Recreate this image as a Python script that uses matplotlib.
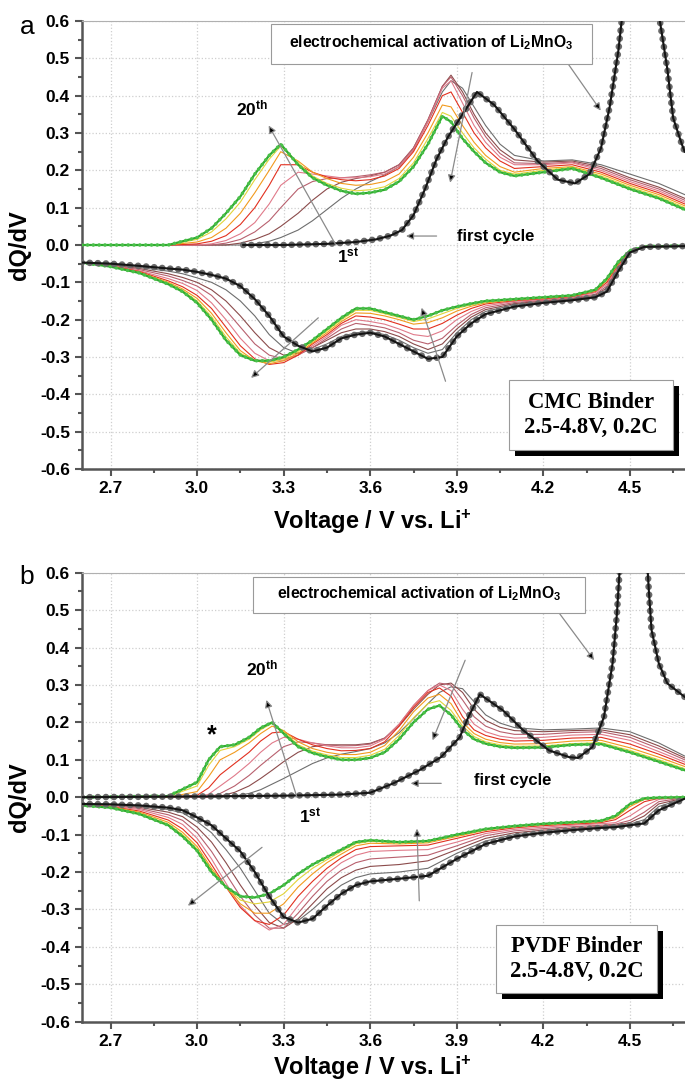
import matplotlib
matplotlib.use('Agg')
import matplotlib.pyplot as plt
from matplotlib.patches import Rectangle
from matplotlib.ticker import MultipleLocator, FormatStrFormatter

plt.rcParams['font.family'] = ['Liberation Sans', 'DejaVu Sans']
plt.rcParams['font.weight'] = 'bold'
plt.rcParams['mathtext.fontset'] = 'custom'
plt.rcParams['mathtext.rm'] = 'Liberation Sans:bold'
plt.rcParams['mathtext.default'] = 'rm'

# ---------------- panel a (CMC binder) ----------------
# charge branch, cycles 2..20
va_ch = [2.60, 2.90, 3.00, 3.05, 3.10, 3.15, 3.20, 3.25, 3.29, 3.35, 3.40, 3.45, 3.50, 3.55, 3.60, 3.65,
         3.70, 3.75, 3.80, 3.85, 3.88, 3.92, 3.96, 4.00, 4.05, 4.10, 4.20, 4.30, 4.40, 4.50, 4.60, 4.69]
a_ch = {
    2: [0, 0, 0, 0, 0, 0, 0.003, 0.01, 0.02, 0.04, 0.065, 0.095, 0.125, 0.15, 0.17, 0.188, 0.21, 0.255, 0.33,
        0.41, 0.44, 0.42, 0.37, 0.32, 0.27, 0.24, 0.225, 0.228, 0.215, 0.19, 0.165, 0.135],
    4: [0, 0, 0, 0, 0, 0.005, 0.015, 0.03, 0.05, 0.085, 0.12, 0.15, 0.168, 0.178, 0.185, 0.195, 0.215, 0.26,
        0.335, 0.425, 0.455, 0.41, 0.35, 0.30, 0.255, 0.228, 0.222, 0.225, 0.21, 0.18, 0.155, 0.125],
    6: [0, 0, 0, 0, 0.005, 0.015, 0.035, 0.065, 0.1, 0.15, 0.17, 0.178, 0.18, 0.183, 0.188, 0.195, 0.215, 0.26,
        0.335, 0.425, 0.45, 0.40, 0.34, 0.29, 0.245, 0.22, 0.218, 0.222, 0.205, 0.175, 0.15, 0.12],
    9: [0, 0, 0, 0.003, 0.012, 0.03, 0.06, 0.11, 0.16, 0.195, 0.19, 0.185, 0.18, 0.18, 0.183, 0.19, 0.21, 0.255,
        0.33, 0.42, 0.44, 0.38, 0.32, 0.275, 0.235, 0.215, 0.215, 0.22, 0.2, 0.17, 0.145, 0.115],
    12: [0, 0, 0.003, 0.01, 0.025, 0.055, 0.1, 0.16, 0.215, 0.215, 0.195, 0.182, 0.175, 0.172, 0.175, 0.185,
         0.205, 0.25, 0.32, 0.40, 0.41, 0.355, 0.30, 0.26, 0.225, 0.205, 0.21, 0.215, 0.195, 0.165, 0.14, 0.11],
    15: [0, 0, 0.008, 0.02, 0.045, 0.085, 0.14, 0.2, 0.25, 0.225, 0.195, 0.178, 0.165, 0.16, 0.162, 0.17, 0.19,
         0.235, 0.3, 0.375, 0.37, 0.32, 0.275, 0.24, 0.21, 0.195, 0.205, 0.21, 0.19, 0.16, 0.135, 0.105],
    18: [0, 0, 0.015, 0.035, 0.07, 0.115, 0.175, 0.23, 0.265, 0.22, 0.185, 0.165, 0.152, 0.145, 0.148, 0.156,
         0.178, 0.22, 0.285, 0.355, 0.345, 0.30, 0.26, 0.23, 0.2, 0.19, 0.2, 0.208, 0.185, 0.155, 0.13, 0.1],
    20: [0, 0, 0.02, 0.045, 0.085, 0.13, 0.19, 0.24, 0.27, 0.215, 0.18, 0.16, 0.145, 0.137, 0.14, 0.148, 0.17,
         0.21, 0.27, 0.345, 0.33, 0.285, 0.25, 0.22, 0.195, 0.185, 0.195, 0.205, 0.18, 0.15, 0.125, 0.095],
}
# first charge (activation of Li2MnO3 above 4.4 V)
va1_ch = [3.16, 3.30, 3.45, 3.55, 3.62, 3.67, 3.71, 3.75, 3.79, 3.83, 3.87, 3.92, 3.97, 4.03, 4.10, 4.18,
          4.25, 4.31, 4.36, 4.40, 4.43, 4.46, 4.50, 4.55, 4.60, 4.63, 4.65, 4.68, 4.69]
a1_ch = [0.0, 0.0, 0.003, 0.008, 0.015, 0.025, 0.04, 0.08, 0.15, 0.23, 0.29, 0.35, 0.41, 0.375, 0.31, 0.225,
         0.175, 0.165, 0.19, 0.26, 0.37, 0.52, 0.8, 0.9, 0.62, 0.47, 0.34, 0.27, 0.25]

# discharge branch, cycles 1..20
va_dc = [2.60, 2.70, 2.80, 2.90, 2.95, 3.00, 3.05, 3.10, 3.15, 3.20, 3.25, 3.30, 3.35, 3.40, 3.45, 3.50, 3.55,
         3.60, 3.65, 3.70, 3.75, 3.80, 3.85, 3.90, 3.95, 4.00, 4.10, 4.20, 4.30, 4.38, 4.42, 4.46, 4.50, 4.55, 4.69]
a_dc = {
    1: [-0.047, -0.05, -0.056, -0.063, -0.066, -0.072, -0.08, -0.09, -0.11, -0.145, -0.19, -0.245, -0.27, -0.285,
        -0.275, -0.25, -0.24, -0.235, -0.245, -0.265, -0.285, -0.305, -0.3, -0.245, -0.21, -0.185, -0.165,
        -0.155, -0.148, -0.14, -0.125, -0.07, -0.02, -0.005, -0.003],
    2: [-0.047, -0.052, -0.06, -0.07, -0.077, -0.088, -0.1, -0.12, -0.15, -0.19, -0.24, -0.275, -0.29, -0.28,
        -0.265, -0.245, -0.235, -0.232, -0.24, -0.255, -0.275, -0.29, -0.28, -0.235, -0.2, -0.178, -0.16,
        -0.152, -0.146, -0.138, -0.12, -0.065, -0.02, -0.005, -0.003],
    4: [-0.047, -0.053, -0.063, -0.077, -0.087, -0.1, -0.12, -0.15, -0.19, -0.235, -0.275, -0.295, -0.29,
        -0.275, -0.255, -0.235, -0.225, -0.225, -0.232, -0.245, -0.265, -0.28, -0.265, -0.225, -0.193, -0.173,
        -0.157, -0.15, -0.144, -0.135, -0.115, -0.06, -0.018, -0.005, -0.003],
    6: [-0.047, -0.054, -0.066, -0.083, -0.095, -0.11, -0.135, -0.175, -0.22, -0.265, -0.295, -0.305, -0.295,
        -0.275, -0.25, -0.225, -0.21, -0.215, -0.222, -0.235, -0.255, -0.265, -0.25, -0.215, -0.186, -0.168,
        -0.154, -0.148, -0.142, -0.132, -0.11, -0.058, -0.017, -0.005, -0.003],
    9: [-0.047, -0.055, -0.069, -0.09, -0.103, -0.122, -0.155, -0.2, -0.25, -0.29, -0.31, -0.31, -0.295, -0.27,
        -0.245, -0.215, -0.2, -0.205, -0.212, -0.225, -0.24, -0.245, -0.23, -0.2, -0.178, -0.163, -0.151,
        -0.146, -0.14, -0.128, -0.105, -0.055, -0.016, -0.005, -0.003],
    12: [-0.047, -0.056, -0.071, -0.096, -0.112, -0.135, -0.17, -0.22, -0.27, -0.305, -0.32, -0.315, -0.295,
         -0.265, -0.24, -0.21, -0.19, -0.193, -0.2, -0.212, -0.225, -0.225, -0.21, -0.188, -0.17, -0.158,
         -0.149, -0.144, -0.138, -0.125, -0.1, -0.052, -0.016, -0.005, -0.003],
    15: [-0.047, -0.057, -0.073, -0.1, -0.118, -0.143, -0.183, -0.235, -0.283, -0.31, -0.318, -0.31, -0.29,
         -0.262, -0.235, -0.205, -0.182, -0.183, -0.19, -0.2, -0.212, -0.208, -0.195, -0.177, -0.164, -0.155,
         -0.147, -0.142, -0.136, -0.123, -0.095, -0.05, -0.015, -0.004, -0.002],
    18: [-0.047, -0.058, -0.074, -0.103, -0.122, -0.15, -0.192, -0.246, -0.29, -0.31, -0.314, -0.305, -0.285,
         -0.258, -0.23, -0.2, -0.175, -0.175, -0.184, -0.194, -0.205, -0.198, -0.184, -0.17, -0.16, -0.152,
         -0.146, -0.141, -0.135, -0.121, -0.092, -0.047, -0.015, -0.004, -0.002],
    20: [-0.047, -0.058, -0.075, -0.105, -0.125, -0.155, -0.2, -0.255, -0.295, -0.31, -0.31, -0.3, -0.28,
         -0.255, -0.225, -0.195, -0.17, -0.17, -0.18, -0.19, -0.2, -0.19, -0.175, -0.165, -0.157, -0.15,
         -0.145, -0.14, -0.135, -0.12, -0.09, -0.045, -0.015, -0.004, -0.002],
}

# ---------------- panel b (PVDF binder) ----------------
vb_ch = [2.60, 2.90, 3.00, 3.04, 3.08, 3.13, 3.18, 3.22, 3.26, 3.30, 3.35, 3.40, 3.45, 3.50, 3.55, 3.60, 3.65,
         3.70, 3.75, 3.80, 3.84, 3.88, 3.92, 3.96, 4.00, 4.05, 4.10, 4.20, 4.30, 4.40, 4.50, 4.60, 4.69]
b_ch = {
    2: [0, 0, 0, 0, 0, 0.003, 0.01, 0.02, 0.035, 0.05, 0.07, 0.09, 0.105, 0.115, 0.122, 0.13, 0.145, 0.172, 0.21,
        0.25, 0.28, 0.295, 0.29, 0.255, 0.22, 0.198, 0.186, 0.18, 0.182, 0.185, 0.175, 0.145, 0.11],
    4: [0, 0, 0, 0, 0.003, 0.013, 0.03, 0.05, 0.072, 0.095, 0.12, 0.135, 0.14, 0.14, 0.14, 0.144, 0.158, 0.19,
        0.235, 0.275, 0.3, 0.305, 0.28, 0.235, 0.205, 0.187, 0.178, 0.175, 0.178, 0.18, 0.167, 0.137, 0.105],
    6: [0, 0, 0, 0, 0.01, 0.03, 0.058, 0.085, 0.11, 0.135, 0.148, 0.145, 0.14, 0.137, 0.138, 0.142, 0.158, 0.195,
        0.245, 0.285, 0.305, 0.3, 0.26, 0.215, 0.19, 0.175, 0.168, 0.168, 0.173, 0.175, 0.16, 0.13, 0.1],
    9: [0, 0, 0, 0.008, 0.03, 0.058, 0.09, 0.12, 0.145, 0.16, 0.155, 0.145, 0.137, 0.132, 0.132, 0.137, 0.155,
        0.195, 0.245, 0.285, 0.3, 0.285, 0.235, 0.195, 0.175, 0.163, 0.158, 0.16, 0.166, 0.168, 0.152, 0.122, 0.094],
    12: [0, 0, 0.005, 0.025, 0.06, 0.09, 0.12, 0.15, 0.172, 0.175, 0.155, 0.14, 0.13, 0.124, 0.125, 0.13, 0.148,
         0.19, 0.24, 0.28, 0.292, 0.27, 0.215, 0.18, 0.165, 0.155, 0.15, 0.152, 0.158, 0.16, 0.142, 0.115, 0.088],
    15: [0, 0, 0.015, 0.055, 0.1, 0.12, 0.145, 0.17, 0.19, 0.178, 0.148, 0.13, 0.12, 0.114, 0.114, 0.12, 0.138,
         0.178, 0.228, 0.265, 0.275, 0.25, 0.2, 0.17, 0.155, 0.146, 0.142, 0.143, 0.15, 0.152, 0.132, 0.107, 0.082],
    18: [0, 0.002, 0.03, 0.085, 0.125, 0.135, 0.155, 0.18, 0.198, 0.175, 0.14, 0.123, 0.113, 0.106, 0.106, 0.112,
         0.128, 0.165, 0.212, 0.25, 0.258, 0.232, 0.19, 0.162, 0.148, 0.14, 0.136, 0.137, 0.143, 0.146, 0.125,
         0.1, 0.076],
    20: [0.0, 0.003, 0.04, 0.1, 0.135, 0.14, 0.16, 0.185, 0.2, 0.17, 0.135, 0.118, 0.108, 0.1, 0.1, 0.105, 0.12,
         0.155, 0.2, 0.235, 0.245, 0.22, 0.18, 0.155, 0.143, 0.135, 0.132, 0.133, 0.14, 0.142, 0.12, 0.095, 0.072],
}
vb1_ch = [2.60, 3.00, 3.30, 3.50, 3.60, 3.68, 3.77, 3.845, 3.91, 3.94, 3.98, 4.06, 4.13, 4.22, 4.29, 4.32, 4.37,
          4.41, 4.44, 4.455, 4.48, 4.54, 4.565, 4.575, 4.60, 4.63, 4.69]
b1_ch = [0.0, 0.002, 0.004, 0.007, 0.012, 0.037, 0.072, 0.107, 0.16, 0.214, 0.275, 0.232, 0.179, 0.125, 0.107,
         0.105, 0.134, 0.214, 0.358, 0.49, 0.8, 0.9, 0.56, 0.447, 0.358, 0.304, 0.268]

vb_dc = [2.60, 2.70, 2.80, 2.90, 2.95, 3.00, 3.05, 3.10, 3.15, 3.20, 3.25, 3.30, 3.35, 3.40, 3.45, 3.50, 3.55,
         3.60, 3.70, 3.80, 3.90, 4.00, 4.10, 4.20, 4.30, 4.40, 4.45, 4.50, 4.55, 4.60, 4.69]
b_dc = {
    1: [-0.018, -0.019, -0.022, -0.028, -0.035, -0.054, -0.075, -0.11, -0.145, -0.2, -0.265, -0.32, -0.335,
        -0.325, -0.29, -0.258, -0.235, -0.225, -0.218, -0.21, -0.165, -0.125, -0.105, -0.095, -0.088, -0.082,
        -0.08, -0.075, -0.07, -0.035, -0.004],
    2: [-0.018, -0.02, -0.024, -0.033, -0.042, -0.065, -0.095, -0.14, -0.19, -0.25, -0.31, -0.34, -0.33, -0.3,
        -0.265, -0.235, -0.215, -0.205, -0.2, -0.19, -0.15, -0.117, -0.1, -0.092, -0.086, -0.08, -0.077, -0.072,
        -0.06, -0.025, -0.003],
    4: [-0.019, -0.021, -0.027, -0.04, -0.052, -0.08, -0.12, -0.175, -0.235, -0.29, -0.335, -0.35, -0.325,
        -0.285, -0.245, -0.215, -0.195, -0.185, -0.18, -0.17, -0.14, -0.11, -0.095, -0.088, -0.083, -0.078,
        -0.075, -0.068, -0.05, -0.018, -0.002],
    6: [-0.019, -0.022, -0.03, -0.047, -0.062, -0.095, -0.145, -0.205, -0.265, -0.315, -0.35, -0.35, -0.31,
        -0.265, -0.225, -0.195, -0.175, -0.165, -0.16, -0.155, -0.13, -0.103, -0.09, -0.084, -0.079, -0.075,
        -0.072, -0.062, -0.04, -0.012, -0.001],
    9: [-0.02, -0.023, -0.033, -0.054, -0.073, -0.11, -0.165, -0.23, -0.29, -0.33, -0.355, -0.34, -0.29, -0.245,
        -0.205, -0.175, -0.155, -0.145, -0.142, -0.14, -0.12, -0.097, -0.086, -0.08, -0.075, -0.071, -0.068,
        -0.05, -0.025, -0.006, 0.0],
    12: [-0.021, -0.025, -0.037, -0.061, -0.085, -0.122, -0.18, -0.24, -0.295, -0.33, -0.34, -0.315, -0.265,
         -0.225, -0.19, -0.162, -0.14, -0.132, -0.13, -0.128, -0.11, -0.092, -0.082, -0.076, -0.072, -0.068,
         -0.06, -0.035, -0.012, -0.003, 0.0],
    15: [-0.021, -0.026, -0.04, -0.067, -0.094, -0.132, -0.19, -0.24, -0.285, -0.31, -0.31, -0.285, -0.24,
         -0.205, -0.175, -0.152, -0.13, -0.123, -0.125, -0.122, -0.105, -0.088, -0.079, -0.073, -0.069, -0.065,
         -0.055, -0.025, -0.006, -0.002, 0.0],
    18: [-0.022, -0.027, -0.043, -0.072, -0.1, -0.138, -0.195, -0.24, -0.275, -0.285, -0.28, -0.258, -0.22,
         -0.19, -0.167, -0.145, -0.124, -0.118, -0.122, -0.119, -0.102, -0.086, -0.078, -0.072, -0.068, -0.064,
         -0.052, -0.02, -0.004, -0.001, 0.0],
    20: [-0.022, -0.028, -0.045, -0.075, -0.105, -0.143, -0.2, -0.24, -0.265, -0.268, -0.258, -0.235, -0.205,
         -0.18, -0.16, -0.14, -0.12, -0.115, -0.12, -0.117, -0.1, -0.085, -0.077, -0.071, -0.067, -0.063, -0.05,
         -0.018, -0.003, -0.001, 0.0],
}

cycle_colors = {2: '#6e6e6e', 4: '#8b4b4b', 6: '#b8606e', 9: '#e07a8a', 12: '#e2301f',
                15: '#f29a1e', 18: '#e2d43a', 20: '#2faa2f'}


def first_cycle(ax, v, q):
    # beaded look of the black first-cycle curve
    ax.plot(v, q, color='#6a6a6a', lw=4.8, linestyle=(0, (0.01, 1.2)), dash_capstyle='round', zorder=6)
    ax.plot(v, q, color='#151515', lw=1.5, zorder=7)


def cycles(ax, v, data):
    for c in sorted(data):
        if c == 1:
            continue
        if c == 20:
            ax.plot(v, data[c], color='#2faa2f', lw=1.6, zorder=5)
            ax.plot(v, data[c], color='#49c049', lw=2.6, linestyle=(0, (0.01, 1.6)),
                    dash_capstyle='round', zorder=5)
        else:
            ax.plot(v, data[c], color=cycle_colors[c], lw=0.8, zorder=3)


def arrow(ax, start, end):
    ax.annotate('', xy=end, xytext=start,
                arrowprops=dict(arrowstyle='-|>', edgecolor='#8a8a8a', facecolor='black',
                                lw=0.9, mutation_scale=11, shrinkA=0, shrinkB=0), zorder=9)


def style_axes(ax):
    ax.set_xlim(2.6, 4.691)
    ax.set_ylim(-0.6, 0.6)
    ax.xaxis.set_major_locator(MultipleLocator(0.3))
    ax.xaxis.set_minor_locator(MultipleLocator(0.15))
    ax.yaxis.set_major_locator(MultipleLocator(0.1))
    ax.yaxis.set_minor_locator(MultipleLocator(0.05))
    ax.xaxis.set_major_formatter(FormatStrFormatter('%.1f'))
    ax.yaxis.set_major_formatter(FormatStrFormatter('%.1f'))
    ax.grid(True, which='major', color='#cfcfcf', linestyle=':', lw=0.9)
    ax.tick_params(which='both', direction='out', color='#555555', width=1.5, labelsize=12.5)
    ax.tick_params(which='major', length=5)
    ax.tick_params(which='minor', length=3)
    ax.spines['right'].set_visible(False)
    ax.spines['top'].set_color('#b0b0b0')
    ax.spines['top'].set_linewidth(0.8)
    for s in ('left', 'bottom'):
        ax.spines[s].set_color('#555555')
        ax.spines[s].set_linewidth(1.8)
    for lab in ax.get_xticklabels() + ax.get_yticklabels():
        lab.set_fontweight('bold')


def info_box(ax, x0, y0, x1, y1, lines):
    ax.add_patch(Rectangle((x0 + 0.01, y0 - 0.014), x1 - x0, y1 - y0, transform=ax.transAxes,
                           facecolor='black', edgecolor='none', zorder=10))
    ax.add_patch(Rectangle((x0, y0), x1 - x0, y1 - y0, transform=ax.transAxes,
                           facecolor='white', edgecolor='#9a9a9a', lw=0.8, zorder=11))
    ax.text((x0 + x1) / 2, (y0 + y1) / 2, lines, transform=ax.transAxes, ha='center', va='center',
            family='Liberation Serif', fontweight='bold', fontsize=16.3, linespacing=1.25, zorder=12)


def label_box(ax, x0, x1, y0, y1):
    ax.add_patch(Rectangle((x0, y0), x1 - x0, y1 - y0, facecolor='white', edgecolor='#9a9a9a',
                           lw=0.8, zorder=10))
    ax.text((x0 + x1) / 2, (y0 + y1) / 2 + 0.003, 'electrochemical activation of Li$_2$MnO$_3$',
            ha='center', va='center', fontsize=11.3, zorder=11)


W, H = 685, 1081
fig = plt.figure(figsize=(W / 100, H / 100), dpi=100)
ax_a = fig.add_axes([81.7 / W, 1 - 469 / H, (W - 81.7) / W, 448 / H])
ax_b = fig.add_axes([81.7 / W, 1 - 1021.7 / H, (W - 81.7) / W, 449 / H])

# panel a
cycles(ax_a, va_ch, a_ch)
cycles(ax_a, va_dc, a_dc)
first_cycle(ax_a, va1_ch, a1_ch)
first_cycle(ax_a, va_dc, a_dc[1])
style_axes(ax_a)
label_box(ax_a, 3.256, 4.369, 0.485, 0.592)
arrow(ax_a, (4.286, 0.485), (4.399, 0.36))
ax_a.text(3.19, 0.365, '20$^{th}$', fontsize=12.5, ha='center', va='center', zorder=11)
arrow(ax_a, (3.481, 0.0), (3.248, 0.32))
ax_a.text(3.525, -0.03, '1$^{st}$', fontsize=12.5, ha='center', va='center', zorder=11)
ax_a.text(3.90, 0.024, 'first cycle', fontsize=12, ha='left', va='center', zorder=11)
arrow(ax_a, (3.83, 0.024), (3.724, 0.024))
arrow(ax_a, (3.953, 0.462), (3.877, 0.167))
arrow(ax_a, (3.42, -0.195), (3.187, -0.356))
arrow(ax_a, (3.861, -0.365), (3.778, -0.168))
info_box(ax_a, 0.708, 0.042, 0.980, 0.199, 'CMC Binder\n2.5-4.8V, 0.2C')

# panel b
cycles(ax_b, vb_ch, b_ch)
cycles(ax_b, vb_dc, b_dc)
first_cycle(ax_b, vb1_ch, b1_ch)
first_cycle(ax_b, vb_dc, b_dc[1])
style_axes(ax_b)
label_box(ax_b, 3.194, 4.345, 0.493, 0.589)
arrow(ax_b, (4.255, 0.492), (4.376, 0.366))
ax_b.text(3.225, 0.345, '20$^{th}$', fontsize=12.5, ha='center', va='center', zorder=11)
arrow(ax_b, (3.346, 0.0), (3.24, 0.26))
ax_b.text(3.392, -0.05, '1$^{st}$', fontsize=12.5, ha='center', va='center', zorder=11)
ax_b.text(3.052, 0.165, '*', fontsize=18, ha='center', va='center', zorder=11)
ax_b.text(3.96, 0.045, 'first cycle', fontsize=12, ha='left', va='center', zorder=11)
arrow(ax_b, (3.846, 0.037), (3.74, 0.037))
arrow(ax_b, (3.929, 0.366), (3.816, 0.152))
arrow(ax_b, (3.225, -0.134), (2.968, -0.29))
arrow(ax_b, (3.77, -0.277), (3.762, -0.084))
info_box(ax_b, 0.687, 0.064, 0.954, 0.215, 'PVDF Binder\n2.5-4.8V, 0.2C')

for yc, yl, letter, ly in ((245, 522, 'a', 27), (797, 1068, 'b', 577)):
    fig.text(19 / W, 1 - yc / H, 'dQ/dV', rotation=90, ha='center', va='center', fontsize=17)
    fig.text(372 / W, 1 - yl / H, 'Voltage / V vs. Li$^{+}$', ha='center', va='center', fontsize=17)
    fig.text(27 / W, 1 - ly / H, letter, ha='center', va='center', fontsize=19, fontweight='normal')

fig.savefig('out.png', dpi=100)
